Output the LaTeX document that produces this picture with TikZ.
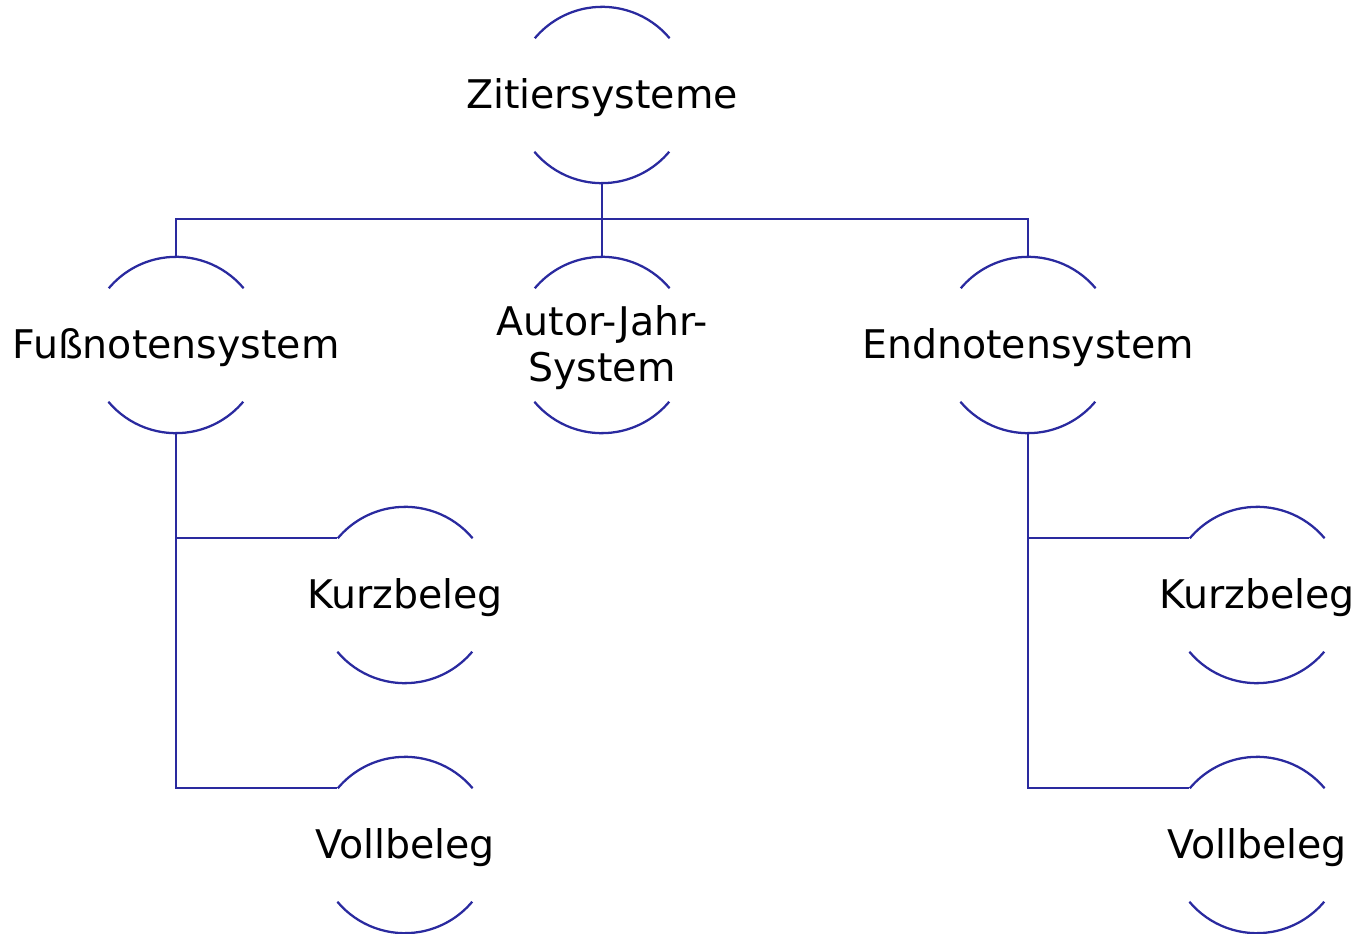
\documentclass[tikz,border=0pt]{standalone}
\usepackage{fontspec}
\setmainfont{DejaVu Sans}
\definecolor{lc}{HTML}{2A2A9F}
\begin{document}
\begin{tikzpicture}[x=0.75pt,y=0.75pt,
  ring/.style={circle,minimum size=132pt,inner sep=0pt},
  txt/.style={font=\fontsize{29.6}{34.5}\selectfont,inner sep=0pt,align=center,text=black,yshift=-2pt},
  ln/.style={draw=lc,line width=1.7pt}]
\useasboundingbox (0,0) rectangle (1357,-934);
\node[ring] (z) at (602,-95) {};
\node[ring] (f) at (176,-345) {};
\node[ring] (a) at (602,-345) {};
\node[ring] (e) at (1028,-345) {};
\node[ring] (fk) at (405,-595) {};
\node[ring] (fv) at (405,-845) {};
\node[ring] (ek) at (1257,-595) {};
\node[ring] (ev) at (1257,-845) {};
\foreach \n in {z,f,a,e,fk,fv,ek,ev}{
  \draw[ln] (\n.40) arc[start angle=40,end angle=140,radius=66pt];
  \draw[ln] (\n.220) arc[start angle=220,end angle=320,radius=66pt];
}
\node[txt] (zt) at (z) {Zitiersysteme};
\node[txt] (ft) at (f) {Fußnotensystem};
\node[txt] (at) at (a) {Autor-Jahr-\\System};
\node[txt] (et) at (e) {Endnotensystem};
\node[txt] (fkt) at (fk) {Kurzbeleg};
\node[txt] (fvt) at (fv) {Vollbeleg};
\node[txt] (ekt) at (ek) {Kurzbeleg};
\node[txt] (evt) at (ev) {Vollbeleg};
\coordinate (j) at (602,-219);
\draw[ln] (z.south) -- (j);
\draw[ln] (j) -| (f.north);
\draw[ln] (j) -| (e.north);
\draw[ln] (j) -- (a.north);
\draw[ln] (f.south) |- (fv.140);
\draw[ln] (f.south |- fk.140) -- (fk.140);
\draw[ln] (e.south) |- (ev.140);
\draw[ln] (e.south |- ek.140) -- (ek.140);
\end{tikzpicture}
\end{document}
